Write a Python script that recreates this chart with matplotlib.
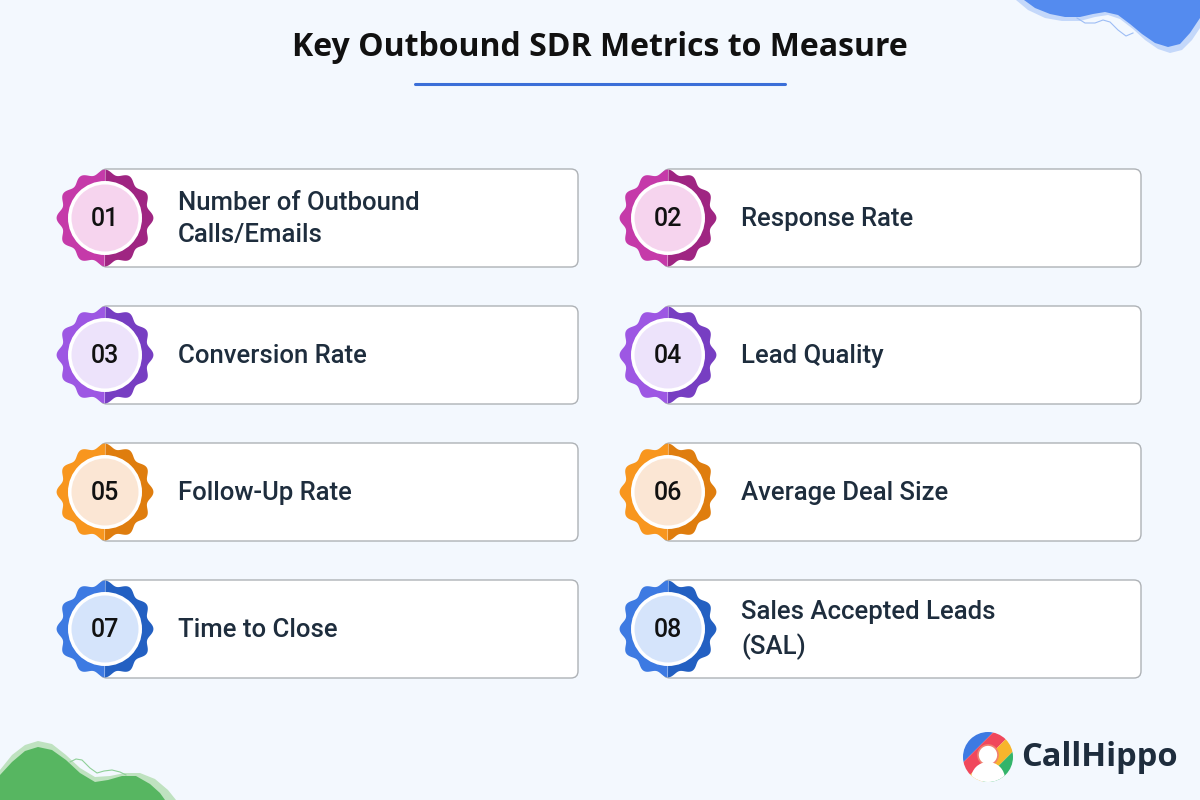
import numpy as np
import matplotlib.pyplot as plt
from matplotlib.patches import FancyBboxPatch, Polygon, Circle

plt.rcParams['font.family'] = ['Open Sans', 'DejaVu Sans']
label_font = ['Roboto', 'Open Sans', 'DejaVu Sans']

title = "Key Outbound SDR Metrics to Measure"
numbers = ["01", "02", "03", "04", "05", "06", "07", "08"]
labels = ["Number of Outbound\nCalls/Emails", "Response Rate",
          "Conversion Rate", "Lead Quality",
          "Follow-Up Rate", "Average Deal Size",
          "Time to Close", "Sales Accepted Leads\n(SAL)"]
# per row: light half, dark half, inner fill
light = ["#c53aa9", "#9d57e3", "#f8961e", "#3d7ae2"]
dark = ["#9f2582", "#773ec2", "#df7d0e", "#2360c2"]
fill = ["#f6d4ee", "#ede3fb", "#fbe6d4", "#d5e4fb"]

bg = "#f3f8fe"
ink = "#1e2d3d"

fig = plt.figure(figsize=(12, 8), dpi=100)
fig.patch.set_facecolor(bg)
ax = fig.add_axes([0, 0, 1, 1])
ax.set_xlim(0, 1200)
ax.set_ylim(800, 0)
ax.axis('off')

# title
ax.text(600, 47, title, ha='center', va='center', fontsize=23,
        fontweight='bold', color='#111111')
ax.plot([415, 785], [84, 84], color='#3b6fd8', lw=2.2, solid_capstyle='round')


def badge(cx, cy, c1, c2, c3, num):
    th = np.linspace(0, 2 * np.pi, 721)
    r = 46 + 2.4 * np.cos(12 * th)
    pts = np.column_stack([cx + r * np.cos(th), cy + r * np.sin(th)])
    right = np.cos(th) >= 0
    left_pts = pts[~right]
    right_pts = np.vstack([pts[th > 3 * np.pi / 2], pts[th <= np.pi / 2]])
    ax.add_patch(Polygon(left_pts, closed=True, fc=c1, ec='none', zorder=3))
    ax.add_patch(Polygon(right_pts, closed=True, fc=c2, ec='none', zorder=3))
    ax.add_patch(Circle((cx, cy), 37, fc='white', ec='none', zorder=4))
    ax.add_patch(Circle((cx, cy), 33.5, fc=c3, ec='none', zorder=5))
    ax.text(cx, cy + 1, num, ha='center', va='center', fontsize=18,
            color='#111111', family=label_font, fontweight='medium', zorder=6)


row_top = [169, 306, 443, 580]
card_h = 98
for i, (num, lab) in enumerate(zip(numbers, labels)):
    row, col = i // 2, i % 2
    x0 = 100 if col == 0 else 663
    bx = 105 if col == 0 else 668
    y0 = row_top[row]
    cy = y0 + card_h / 2
    ax.add_patch(FancyBboxPatch((x0, y0), 478, card_h,
                                boxstyle="round,pad=0,rounding_size=7",
                                fc='white', ec='#aeb2b6', lw=1.0, zorder=2))
    badge(bx, cy, light[row], dark[row], fill[row], num)
    ax.text(bx + 73, cy + 1, lab, ha='left', va='center', fontsize=18.5,
            family=label_font, fontweight='medium', color=ink,
            linespacing=1.45, zorder=6)

# top-right blue wave
blob = [(1024, 0), (1035, 8), (1050, 14), (1065, 17), (1080, 17), (1093, 14),
        (1105, 12), (1118, 15), (1130, 24), (1142, 34), (1155, 43), (1168, 47),
        (1180, 44), (1190, 33), (1200, 18), (1200, 0)]
shadow = [(1016, 0), (1028, 10), (1045, 18), (1062, 21), (1080, 21), (1095, 17),
          (1108, 15), (1120, 19), (1133, 29), (1145, 40), (1158, 49), (1170, 53),
          (1182, 50), (1192, 40), (1200, 28), (1200, 0)]
ax.add_patch(Polygon(shadow, closed=True, fc='#c4d8fa', ec='none', zorder=1))
ax.add_patch(Polygon(blob, closed=True, fc='#548bef', ec='none', zorder=1))
ax.plot([1077, 1085, 1095, 1103, 1110, 1118, 1126, 1133],
        [18, 23, 23, 20, 22, 30, 36, 33], color='#9dbdf5', lw=0.8, zorder=1)

# bottom-left green wave
gshadow = [(0, 770), (12, 755), (25, 745), (38, 741), (52, 744), (66, 755),
           (80, 768), (95, 777), (110, 776), (125, 773), (140, 773),
           (155, 779), (168, 790), (176, 800), (0, 800)]
gmain = [(0, 775), (12, 762), (25, 751), (38, 747), (52, 750), (66, 760),
         (80, 773), (95, 782), (108, 780), (122, 776), (136, 776),
         (150, 784), (160, 793), (165, 800), (0, 800)]
ax.add_patch(Polygon(gshadow, closed=True, fc='#bfe2c0', ec='none', zorder=1))
ax.add_patch(Polygon(gmain, closed=True, fc='#57b661', ec='none', zorder=1))
ax.plot([70, 76, 82, 90, 97, 104, 112, 120, 126],
        [762, 759, 760, 768, 773, 771, 770, 772, 775],
        color='#8fd098', lw=0.8, zorder=1)

# logo
lx, ly, lr = 988, 757, 25
clip = Circle((lx, ly), lr, transform=ax.transData)
band_cols = ['#3d7ae2', '#f0485c', '#f7b52c', '#33b46a']
d = np.array([1, 1]) / np.sqrt(2)
n = np.array([1, -1]) / np.sqrt(2)
w = 0.55 * lr
for k, c in enumerate(band_cols):
    p0 = np.array([lx, ly]) + d * (-lr * 1.1 + k * w)
    back = 60 if k == 0 else 0
    fwd = 60 if k == 3 else w
    poly = [p0 - n * 60 - d * back, p0 + n * 60 - d * back,
            p0 + n * 60 + d * fwd, p0 - n * 60 + d * fwd]
    pg = Polygon(poly, closed=True, fc=c, ec='none', zorder=3)
    ax.add_patch(pg)
    pg.set_clip_path(clip)
ax.add_patch(Circle((lx, ly - 2), 10, fc='white', ec='#f08070', lw=1.2, zorder=4))
body = Circle((lx, ly + 22), 17, fc='white', ec='none', zorder=4)
ax.add_patch(body)
body.set_clip_path(clip)
ax.text(1021, 758, "CallHippo", ha='left', va='center', fontsize=23.5,
        fontweight='bold', color=ink)

fig.savefig("out.png", dpi=100, facecolor=bg)
